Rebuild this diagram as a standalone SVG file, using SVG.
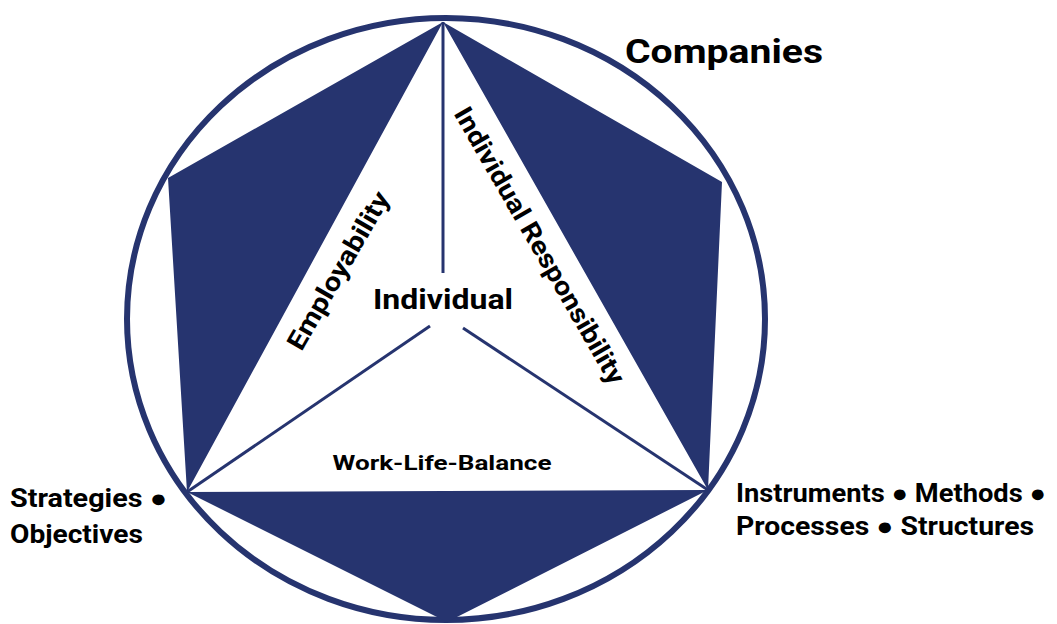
<svg xmlns="http://www.w3.org/2000/svg" width="1057" height="624" viewBox="0 0 1057 624">
<style>
.t{font-family:Roboto,"Liberation Sans",Arial,sans-serif;font-weight:bold;fill:#000}
.ln{stroke:#26346F;stroke-width:3;fill:none}
</style>
<rect width="1057" height="624" fill="#fff"/>
<g id="ring">
<ellipse cx="446" cy="319" rx="319" ry="301" fill="none" stroke="#26346F" stroke-width="6"/>
</g>
<g id="companies-shape">
<path d="M443,22 L168,178 L187,492 L447,622 L708,490 L722,182 Z M443,22 L708,490 L187,492 Z" fill="#26346F" fill-rule="evenodd"/>
</g>
<g id="connectors">
<line class="ln" x1="443" y1="22" x2="443" y2="273"/>
<line class="ln" x1="187" y1="492" x2="430" y2="326"/>
<line class="ln" x1="708" y1="490" x2="463" y2="328"/>
</g>
<g id="individual">
<text class="t" x="443" y="309" font-size="28" text-anchor="middle" textLength="140" lengthAdjust="spacingAndGlyphs">Individual</text>
</g>
<g id="employability">
<text class="t" font-size="26" text-anchor="middle" transform="translate(346,275) rotate(-60)" textLength="178" lengthAdjust="spacingAndGlyphs">Employability</text>
</g>
<g id="responsibility">
<text class="t" font-size="26" text-anchor="middle" transform="translate(532,250) rotate(60)" textLength="315" lengthAdjust="spacingAndGlyphs">Individual Responsibility</text>
</g>
<g id="wlb">
<text class="t" x="442" y="470" font-size="20" text-anchor="middle" textLength="219" lengthAdjust="spacingAndGlyphs">Work-Life-Balance</text>
</g>
<g id="companies">
<text class="t" x="625" y="63" font-size="34" textLength="198" lengthAdjust="spacingAndGlyphs">Companies</text>
</g>
<g id="strategies">
<text class="t" x="10" y="507" font-size="25" textLength="157" lengthAdjust="spacingAndGlyphs">Strategies ●</text>
<text class="t" x="10" y="543" font-size="25" textLength="133" lengthAdjust="spacingAndGlyphs">Objectives</text>
</g>
<g id="instruments">
<text class="t" x="736" y="502" font-size="25" textLength="310" lengthAdjust="spacingAndGlyphs">Instruments ● Methods ●</text>
<text class="t" x="736" y="535" font-size="25" textLength="298" lengthAdjust="spacingAndGlyphs">Processes ● Structures</text>
</g>
</svg>
